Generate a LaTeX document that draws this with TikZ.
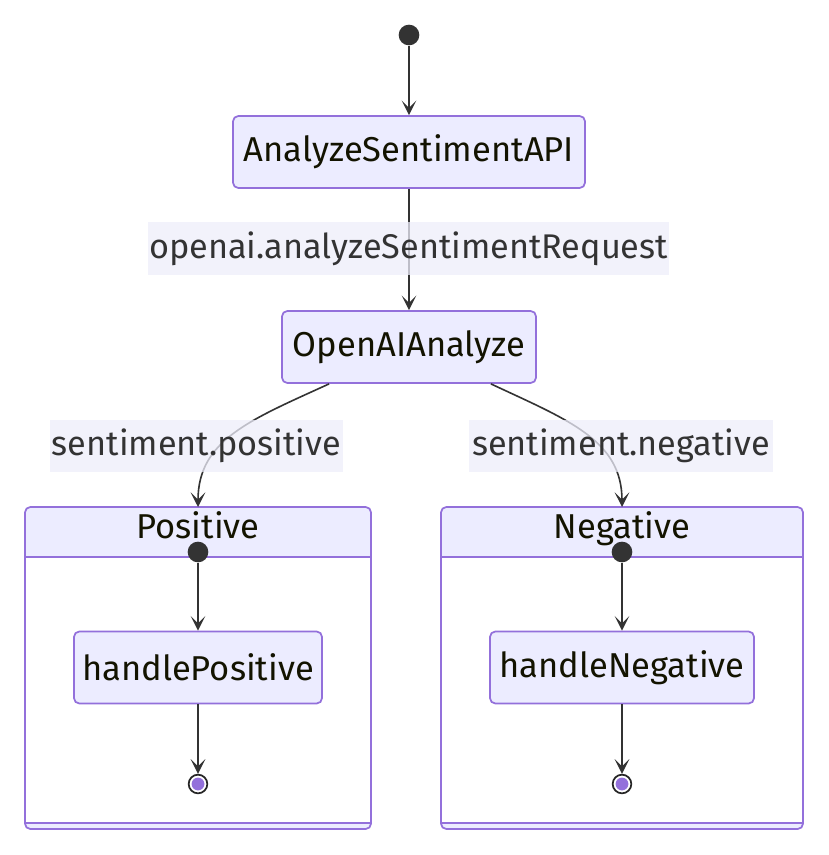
\documentclass[tikz,border=0pt]{standalone}
\usepackage{fontspec}
\setmainfont{Fira Sans}
\usetikzlibrary{arrows.meta}
\definecolor{nodefill}{HTML}{ECECFF}
\definecolor{nodeborder}{HTML}{9370DB}
\definecolor{linec}{HTML}{333333}
\definecolor{labelbg}{HTML}{EDEDFA}
\definecolor{txt}{HTML}{131300}
\begin{document}
\begin{tikzpicture}[x=0.75pt,y=-0.75pt,
  statebox/.style={draw=nodeborder,fill=nodefill,line width=1.3pt,rounded corners=4pt,inner sep=0pt,
    text=txt,font=\fontsize{25.9}{30}\selectfont,minimum height=54pt},
  edgelabel/.style={fill=labelbg,fill opacity=0.75,text opacity=1,text=linec,inner sep=0pt,
    font=\fontsize{25.7}{30}\selectfont,minimum height=39pt},
  conn/.style={draw=linec,line width=1.2pt,-{Stealth[length=11pt,width=11pt,inset=5.5pt]}},
  startdot/.style={circle,fill=linec,inner sep=0pt,minimum size=15.5pt},
  cluster/.style={text=txt,font=\fontsize{25.9}{30}\selectfont,anchor=base,inner sep=0pt},
]
\useasboundingbox (0,0) rectangle (828,855);

% top level
\node[startdot] (s0) at (409,35) {};
\node[statebox,minimum width=264pt] (api) at (409,152) {AnalyzeSentimentAPI};
\node[statebox,minimum width=190.5pt] (oai) at (409,347) {OpenAIAnalyze};

% composites
\foreach \nm/\xl/\xr in {pos/25/371,neg/441/803}{
  \fill[nodefill,rounded corners=4pt] (\xl,507) rectangle (\xr,829);
  \fill[white] (\xl,557) rectangle (\xr,823);
  \draw[nodeborder,line width=1.3pt] (\xl,557) -- (\xr,557);
  \draw[nodeborder,line width=1.3pt] (\xl,823) -- (\xr,823);
  \draw[nodeborder,line width=1.3pt,rounded corners=4pt] (\xl,507) rectangle (\xr,829);
}
\coordinate (postop) at (198,507);
\coordinate (negtop) at (622,507);
\node[cluster] (postitle) at (198,538) {Positive};
\node[cluster] (negtitle) at (622,538) {Negative};

\node[startdot] (spos) at (198,552) {};
\node[startdot] (sneg) at (622,552) {};
\node[statebox,minimum width=186pt] (hpos) at (198,667.5) {handlePositive};
\node[statebox,minimum width=198pt] (hneg) at (622,667.5) {handleNegative};

\foreach \nm/\x in {epos/198,eneg/622}{
  \node[circle,draw=black!85,line width=1.3pt,fill=white,minimum size=14pt,inner sep=0pt] (\nm) at (\x,784) {};
  \fill[nodeborder] (\nm.center) circle (4.8pt);
}

% connectors
\draw[conn] (s0) -- (api);
\draw[conn] (api) -- (oai);
\draw[conn] (oai.south west) ++(48,0) coordinate (oaiL) (oaiL) .. controls (250,420) and (198,440) .. (postop);
\draw[conn] (oai.south east) ++(-46,0) coordinate (oaiR) (oaiR) .. controls (568,420) and (622,440) .. (negtop);
\draw[conn] (spos) -- (hpos);
\draw[conn] (sneg) -- (hneg);
\draw[conn] (hpos) -- (epos);
\draw[conn] (hneg) -- (eneg);

% edge labels
\node[edgelabel,minimum width=390.75pt] (l1) at (408.5,248.5) {openai.analyzeSentimentRequest};
\node[edgelabel,minimum width=219.75pt] (l2) at (196.5,445.5) {sentiment.positive};
\node[edgelabel,minimum width=228pt] (l3) at (621,445.5) {sentiment.negative};
\end{tikzpicture}
\end{document}
